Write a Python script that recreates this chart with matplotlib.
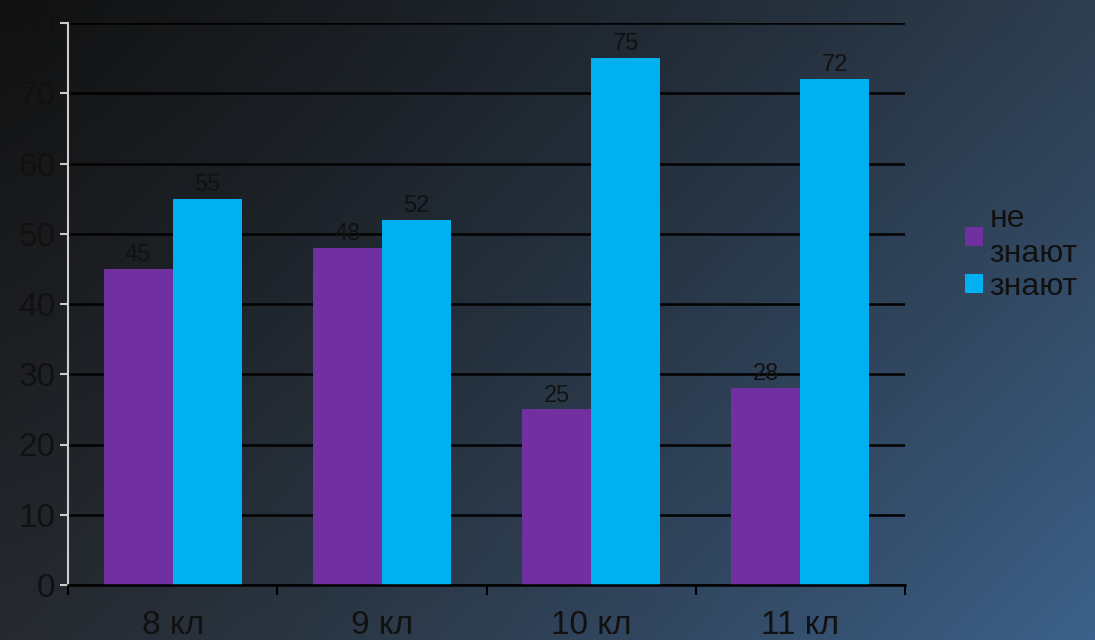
import matplotlib
matplotlib.use("Agg")
import matplotlib.pyplot as plt
import numpy as np

plt.rcParams['font.family'] = ['Liberation Sans', 'DejaVu Sans']

categories = ['8 кл', '9 кл', '10 кл', '11 кл']
ne_znayut = [45, 48, 25, 28]
znayut = [55, 52, 75, 72]
series_names = ['не\nзнают', 'знают']
yticks = [0, 10, 20, 30, 40, 50, 60, 70, 80]

purple = '#7030A0'
cyan = '#00B0F0'
text_col = '#111111'

fig = plt.figure(figsize=(10.95, 6.4), dpi=100)

# background gradient (dark top-left to steel blue bottom-right)
bg = fig.add_axes([0, 0, 1, 1])
h, w = 160, 274
yy, xx = np.mgrid[0:1:h * 1j, 0:1:w * 1j]
tl = np.array([18, 18, 18]) / 255
tr = np.array([46, 62, 80]) / 255
bl = np.array([38, 42, 48]) / 255
br = np.array([60, 97, 138]) / 255
gx = xx[..., None] ** 1.2
gy = yy[..., None] ** 1.1
img = (tl * (1 - gx) * (1 - gy) + tr * gx * (1 - gy)
       + bl * (1 - gx) * gy + br * gx * gy)
bg.imshow(img, aspect='auto', extent=[0, 1, 0, 1], interpolation='bilinear')
bg.axis('off')

ax = fig.add_axes([68 / 1095, 55 / 640, 837 / 1095, 562 / 640])
ax.patch.set_alpha(0)

x = np.arange(len(categories))
bw = 0.33
b1 = ax.bar(x - bw / 2, ne_znayut, bw, color=purple, label=series_names[0], zorder=3)
b2 = ax.bar(x + bw / 2, znayut, bw, color=cyan, label=series_names[1], zorder=3)

for bars, vals in ((b1, ne_znayut), (b2, znayut)):
    for r, v in zip(bars, vals):
        ax.text(r.get_x() + r.get_width() / 2, v + 0.4, str(v), ha='center', va='bottom',
                fontsize=17, color=text_col, zorder=4)

ax.set_xlim(-0.5, len(categories) - 0.5)
ax.set_ylim(0, 80)
ax.set_yticks(yticks)
ax.set_yticklabels([str(t) for t in yticks], fontsize=24, color=text_col)
ax.yaxis.grid(True, color='#000000', linewidth=1.8, zorder=0)
ax.set_axisbelow(True)

ax.set_xticks(x)
ax.set_xticklabels(categories, fontsize=24, color=text_col)
ax.tick_params(axis='x', length=0, pad=18)
ax.set_xticks(np.arange(-0.5, len(categories)), minor=True)
ax.tick_params(axis='x', which='minor', length=7, width=1.5, color='#000000')
ax.tick_params(axis='y', length=6, width=1.5, color='#cccccc', pad=3)

for s in ('top', 'right'):
    ax.spines[s].set_visible(False)
ax.spines['left'].set_color('#cccccc')
ax.spines['left'].set_linewidth(1.5)
ax.spines['bottom'].set_color('#000000')
ax.spines['bottom'].set_linewidth(1.8)
ax.spines['bottom'].set_zorder(5)

fig.legend(handles=[b1, b2], labels=series_names, loc='center left',
           bbox_to_anchor=(0.867, 0.605), frameon=False, fontsize=23,
           handlelength=0.55, handleheight=0.55, handletextpad=0.2,
           labelspacing=0.1, labelcolor=text_col, borderpad=0)

fig.savefig('out.png', dpi=100)
